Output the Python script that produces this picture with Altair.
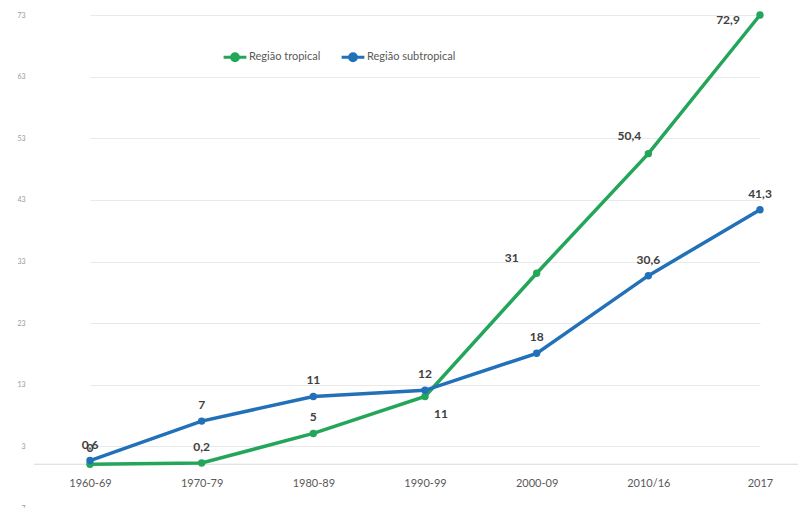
import altair as alt
import pandas as pd

periods = ["1960-69", "1970-79", "1980-89", "1990-99", "2000-09", "2010/16", "2017"]
tropical = [0, 0.2, 5, 11, 31, 50.4, 72.9]
subtropical = [0.6, 7, 11, 12, 18, 30.6, 41.3]
series_names = ["Região tropical", "Região subtropical"]
y_ticks = [72.9, 62.9, 52.9, 42.9, 32.9, 22.9, 12.9, 2.9, -7.1]

rows = []
for name, vals in zip(series_names, [tropical, subtropical]):
    for i, (p, v) in enumerate(zip(periods, vals)):
        lab = ("%g" % v).replace(".", ",")
        rows.append({"periodo": p, "serie": name, "valor": v, "rotulo": lab, "idx": i})
df = pd.DataFrame(rows)

GREEN = "#23a55a"
BLUE = "#2271b8"
FONT = "Lato"

x_enc = alt.X("periodo:O", sort=periods,
              scale=alt.Scale(type="point", range=[56, 726], padding=0),
              axis=alt.Axis(title=None, offset=-44, labelAngle=0, ticks=False, grid=False,
                            domain=False, labelFontSize=11,
                            labelColor="#595959", labelFont=FONT, labelPadding=13))
y_scale = alt.Scale(domain=[-7.1, 72.9], nice=False, zero=False)
y_enc = alt.Y("valor:Q", scale=y_scale,
              axis=alt.Axis(title=None, values=y_ticks, format=".0f", domain=False, ticks=False,
                            grid=True, gridColor="#e9e9e9", gridWidth=1, labelFontSize=7,
                            labelColor="#9a9a9a", labelFont=FONT, labelPadding=9))
color_enc = alt.Color("serie:N",
                      scale=alt.Scale(domain=series_names, range=[GREEN, BLUE]),
                      legend=alt.Legend(title=None, orient="none", legendX=188, legendY=29,
                                        direction="horizontal",
                                        symbolType="M-1,0L1,0M0.3,0A0.3,0.3,0,1,1,-0.3,0A0.3,0.3,0,1,1,0.3,0",
                                        symbolSize=520, symbolStrokeWidth=3,
                                        labelFontSize=11, labelColor="#595959", labelFont=FONT,
                                        labelOffset=1, columnPadding=14))

zero_rule = alt.Chart(pd.DataFrame({"zero": [0]})).mark_rule(color="#d9d9d9", strokeWidth=1).encode(
    y=alt.Y("zero:Q", scale=y_scale)
)

base = alt.Chart(df).encode(x=x_enc, y=y_enc)

lines = base.mark_line(strokeWidth=3.5, point=alt.OverlayMarkDef(filled=True, size=55)).encode(
    color=color_enc,
    order=alt.Order("idx:Q"),
)

txt_style = dict(fontSize=12, fontWeight="bold", color="#404040", font=FONT)

above = base.mark_text(dy=-16, **txt_style).encode(text="rotulo:N").transform_filter(
    "datum.serie == 'Região subtropical' || datum.idx < 3")
g1990 = base.mark_text(dx=16, dy=18, **txt_style).encode(text="rotulo:N").transform_filter(
    "datum.serie == 'Região tropical' && datum.idx == 3")
g2000 = base.mark_text(dx=-25, dy=-15, **txt_style).encode(text="rotulo:N").transform_filter(
    "datum.serie == 'Região tropical' && datum.idx == 4")
g2010 = base.mark_text(dx=-19, dy=-18, **txt_style).encode(text="rotulo:N").transform_filter(
    "datum.serie == 'Região tropical' && datum.idx == 5")
g2017 = base.mark_text(dx=-32, dy=5, **txt_style).encode(text="rotulo:N").transform_filter(
    "datum.serie == 'Região tropical' && datum.idx == 6")

chart = alt.layer(zero_rule, lines, above, g1990, g2000, g2010, g2017).properties(
    width=764, height=493,
    autosize=alt.AutoSizeParams(type="none"),
    padding={"left": 26, "top": 7, "right": 0, "bottom": 0},
).configure(background="white").configure_view(stroke=None)

chart.save("out.html", embed_options={"renderer": "svg", "actions": False})
